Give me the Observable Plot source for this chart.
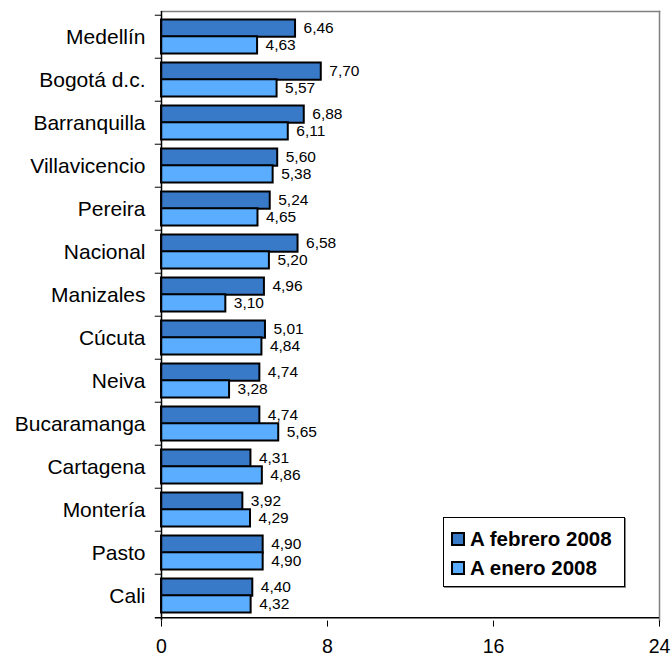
<!DOCTYPE html>
<html>
<head>
<meta charset="utf-8">
<script src="https://cdn.jsdelivr.net/npm/d3@7"></script>
<script src="https://cdn.jsdelivr.net/npm/@observablehq/plot@0.6"></script>
<style>
  html, body { margin: 0; padding: 0; background: white; }
  #wrap { position: relative; width: 672px; height: 658px; font-family: "Liberation Sans", Arial, sans-serif; }
  #legend { position: absolute; left: 443px; top: 517px; width: 182px; height: 70px; border: 1px solid black;
            box-shadow: 1px 1px 0 #888; background: white; box-sizing: border-box; padding-top: 6px; }
  .item { display: flex; align-items: center; height: 29px; padding-left: 7px; font-weight: bold; font-size: 20.5px; color: black; }
  .sw { width: 10px; height: 10px; border: 2px solid black; margin-right: 5px; }
</style>
</head>
<body>
<div id="wrap"></div>
<script>
const cities = ["Medellín","Bogotá d.c.","Barranquilla","Villavicencio","Pereira","Nacional","Manizales","Cúcuta","Neiva","Bucaramanga","Cartagena","Montería","Pasto","Cali"];
const febrero = [6.46,7.70,6.88,5.60,5.24,6.58,4.96,5.01,4.74,4.74,4.31,3.92,4.90,4.40];
const enero = [4.63,5.57,6.11,5.38,4.65,5.20,3.10,4.84,3.28,5.65,4.86,4.29,4.90,4.32];
const seriesNames = ["A febrero 2008","A enero 2008"];
const seriesColors = ["#387AC8","#5AADFF"];
const xTicks = [0,8,16,24];

const W = 672, H = 658, mT = 11, mB = 37.4, mL = 161, mR = 13;
const bw = (H - mT - mB) / cities.length;
const fmt = v => v.toFixed(2).replace(".", ",");

const feb = cities.map((c, i) => ({city: c, value: febrero[i]}));
const ene = cities.map((c, i) => ({city: c, value: enero[i]}));

const chart = Plot.plot({
  width: W, height: H,
  marginTop: mT, marginBottom: mB, marginLeft: mL, marginRight: mR,
  style: {fontFamily: '"Liberation Sans", Arial, sans-serif', background: "white", color: "black"},
  x: {domain: [0, 24]},
  y: {type: "band", domain: cities, padding: 0},
  marks: [
    Plot.frame({anchor: "top", stroke: "#808080", strokeWidth: 1.5}),
    Plot.frame({anchor: "right", stroke: "#808080", strokeWidth: 1.5}),
    Plot.barX(feb, {x: "value", y: "city", fill: seriesColors[0], stroke: "black", strokeWidth: 2, insetTop: 4.5, insetBottom: bw / 2 - 0.5}),
    Plot.barX(ene, {x: "value", y: "city", fill: seriesColors[1], stroke: "black", strokeWidth: 2, insetTop: bw / 2 - 0.5, insetBottom: 4.5}),
    Plot.text(feb, {x: "value", y: "city", text: d => fmt(d.value), dx: 8, dy: -8.5, textAnchor: "start", fontSize: 15.5, fill: "black"}),
    Plot.text(ene, {x: "value", y: "city", text: d => fmt(d.value), dx: 8, dy: 8.5, textAnchor: "start", fontSize: 15.5, fill: "black"}),
    Plot.axisY({tickSize: 0, tickPadding: 16, fontSize: 21, label: null, fill: "black"}),
    Plot.axisX({ticks: xTicks, tickSize: 6, tickPadding: 12, fontSize: 19.5, label: null, tickFormat: d => String(d), fill: "black"}),
    Plot.ruleX([0], {stroke: "black", strokeWidth: 1.5}),
    Plot.ruleY(cities, {y: d => d, dy: -bw / 2, x1: -0.3, x2: 0, stroke: "black"}),
    Plot.ruleY([cities[cities.length - 1]], {y: d => d, dy: bw / 2, x1: -0.3, x2: 24, stroke: "black", strokeWidth: 1.5})
  ]
});

const wrap = document.getElementById("wrap");
wrap.appendChild(chart);
const legend = document.createElement("div");
legend.id = "legend";
seriesNames.forEach((name, i) => {
  const item = document.createElement("div");
  item.className = "item";
  const sw = document.createElement("div");
  sw.className = "sw";
  sw.style.background = seriesColors[i];
  item.appendChild(sw);
  item.appendChild(document.createTextNode(name));
  legend.appendChild(item);
});
wrap.appendChild(legend);
</script>
</body>
</html>
